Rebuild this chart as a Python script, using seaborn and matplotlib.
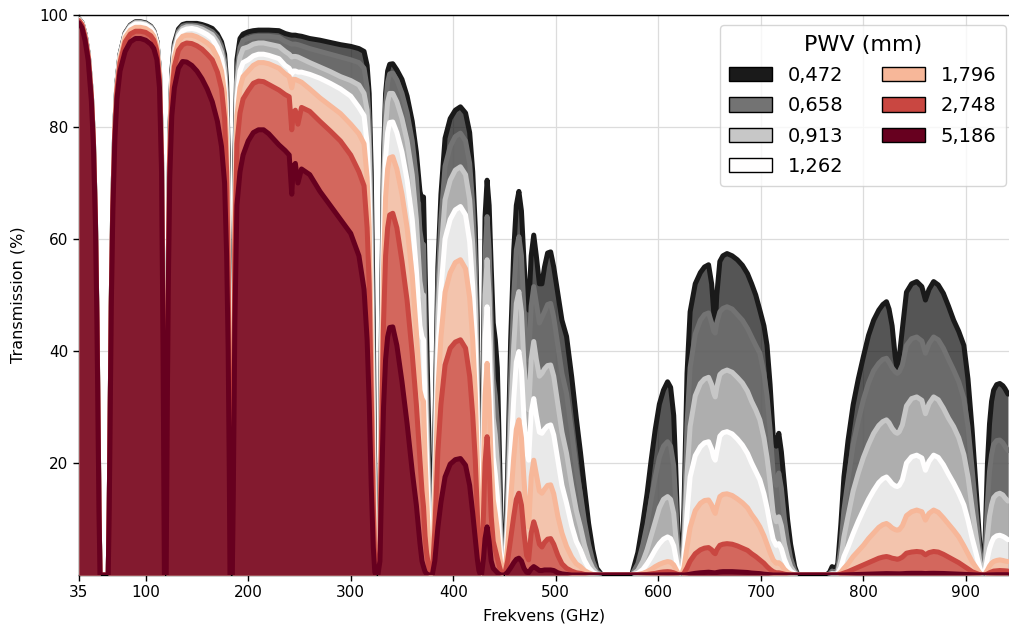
import numpy as np
import matplotlib
matplotlib.use("Agg")
import matplotlib.pyplot as plt
from matplotlib.patches import Patch
import seaborn as sns

# ---------------- data ----------------
pwv_labels = ["0,472", "0,658", "0,913", "1,262", "1,796", "2,748", "5,186"]

freq = [
    # window 1
    35, 38, 41, 44, 47, 49, 51, 52.5, 53.5, 54.5, 55.5,
    # window 2
    63.5, 64.5, 65.5, 66.5, 68, 70, 72, 75, 80, 85, 90, 95, 100, 105, 108, 111, 113.5, 115.5, 117, 118.3,
    # window 3
    120, 121, 122, 123.5, 125.5, 128, 132, 136, 140, 145, 150, 155, 160, 165, 170, 174, 177, 179, 180.5, 181.5, 182.3,
    # window 4
    184.5, 185.5, 187, 189, 192, 195, 200, 205, 210, 215, 220, 230, 236, 240, 242.5, 244, 246, 248.5, 252, 260,
    270, 280, 290, 300, 308, 313, 316, 318, 320, 322, 323.5, 324.5,
    # window 5
    326.5, 328.5, 330, 332, 334, 336, 338, 341, 345, 350, 355, 360, 364, 367.5, 369.5, 371, 372.5, 374, 376, 378, 379.5,
    # window 6
    382, 385, 388, 392, 397, 402, 407, 412, 416, 419, 421.5, 423.5, 425, 426.5,
    # window 7
    427.5, 429.5, 431, 433, 435, 437, 439, 441, 443, 445, 447, 448.5,
    # window 8
    450, 453, 456, 459, 461.5, 464, 466.5, 469, 471.5, 473.5, 476, 478.5, 481, 484, 486.5, 489, 492, 495, 498, 502,
    506, 510.5, 515.5, 520, 524, 528, 532, 536, 540, 545,
    # window 9
    574, 580, 585, 589, 593, 597, 601, 605, 609, 612, 615, 617, 619, 621, 622.5,
    # window 10
    625, 628, 631, 636, 641, 645, 649, 652, 654, 655.5, 657, 660, 663, 667, 672, 677, 682, 687, 691, 695,
    699, 703, 706, 709, 712, 715, 717.5, 720, 723, 726, 729, 733, 736,
    # window 11
    764, 767, 769.5, 772, 775, 778, 781, 785, 790, 795, 800, 805, 810, 815, 819, 822.5, 825, 828, 831, 833,
    835, 838, 842, 847, 852, 857, 860.5, 864, 868.5, 873, 878, 883, 888, 893, 898, 902, 906, 910, 913, 915.5, 917.5,
    # window 12
    919, 921, 923, 925, 927, 930, 933, 936, 938, 941,
]

t_0472 = [
    99.3, 98.6, 96.5, 93, 86, 78, 64, 46, 30, 12, 0,
    0, 12.5, 31, 49.5, 67, 80.5, 88, 93, 96.8, 98.2, 98.8, 98.8, 98.6, 98, 97.2, 95.3, 90, 75, 42, 0,
    0, 30, 55, 78, 90, 95, 97.5, 98.3, 98.5, 98.5, 98.5, 98.3, 98, 97.6, 96.6, 95.2, 93, 88, 75, 50, 0,
    0, 28, 74, 92, 95.8, 96.6, 97, 97.2, 97.3, 97.3, 97.3, 97.2, 96.7, 96.5, 96.4, 96.4, 96.4, 96.3, 96.2, 95.8,
    95.5, 95.1, 94.7, 94.4, 94.0, 93.5, 91, 86, 72, 45, 15, 0,
    0, 10, 45, 75, 86, 90, 91.2, 91.3, 90.2, 88.5, 85.5, 81, 75.5, 68.5, 67, 67.5, 55, 42, 25, 10, 0,
    25, 55, 68, 78, 81.5, 83, 83.6, 82.5, 79, 72, 62, 45, 22, 3,
    0, 40, 64, 70.5, 66, 55, 45, 42, 37, 22, 6, 0,
    0, 18, 42, 58, 66, 68.5, 65, 56, 48, 47.3, 57, 60.7, 57, 52, 52, 55, 57.5, 57.7, 55, 50.3,
    45.5, 42.6, 35.4, 28, 22, 15.5, 9.2, 4.5, 1.2, 0,
    0, 4, 9.5, 14.5, 20.5, 26, 30.5, 33, 34.5, 33.5, 28.5, 19, 8, 1.5, 0,
    12, 36, 47, 52, 54, 55, 55.4, 52, 47, 44.3, 50, 56, 57, 57.4, 57, 56.3, 55.3, 53.8, 52, 50,
    47.3, 44.5, 41, 34, 25, 23, 25.3, 22, 16, 10, 5.5, 1.5, 0,
    0, 0.5, 1.5, 0.8, 2, 9, 17.5, 24, 30.4, 35, 39, 42.8, 45.5, 47.3, 48.3, 48.8, 47.5, 44.5, 39, 36.6,
    39, 44, 50.5, 52, 52.4, 51.5, 49.1, 51, 52.4, 51.8, 50.3, 48, 45.5, 43.5, 41, 35, 26, 15, 7, 1, 0,
    8, 20, 27, 31, 33, 34, 34.2, 33.8, 33.3, 32.3,
]

t_0658 = [
    99.3, 98.6, 96.5, 93, 86, 78, 64, 46, 30, 12, 0,
    0, 12.5, 31, 49.5, 67, 80.4, 87.9, 92.9, 96.7, 98.1, 98.7, 98.7, 98.5, 97.9, 97.1, 95.2, 89.9, 74.9, 42, 0,
    0, 29.8, 54.7, 77.6, 89.5, 94.5, 97.1, 98, 98.2, 98.2, 98.1, 97.9, 97.5, 97, 96, 94.4, 91.8, 86.2, 72.5, 47, 0,
    0, 27, 72, 90, 94.2, 95.5, 95.8, 96.1, 96.2, 96.2, 96.2, 96.0, 95.3, 95.0, 94.8, 94.8, 94.8, 94.7, 94.5, 94.0,
    93.5, 93.0, 92.5, 92.0, 91.5, 90.5, 87, 81, 65, 38, 11, 0,
    0, 9, 43, 72, 84, 88, 89.5, 89.6, 88.4, 86, 82.5, 77.5, 71, 61.5, 59, 59, 45, 33, 18, 7, 0,
    23, 51, 63.5, 73, 76.5, 78.3, 78.9, 77.5, 73.5, 66, 56, 39, 18, 2.5,
    0, 35, 57, 64, 58, 45, 35, 32, 27, 15, 4, 0,
    0, 14, 35, 50, 58, 60.4, 57, 47, 40, 38.4, 48, 51.5, 48.5, 45, 46, 47, 48.3, 48.5, 46, 41,
    36, 32.4, 25.5, 19, 14.6, 9.5, 5.5, 2.5, 0.6, 0,
    0, 2, 5.5, 9, 13.5, 17.5, 21, 23, 23.8, 23, 19.5, 13, 5, 1, 0,
    8, 27, 37, 43, 45.5, 46.5, 46.8, 45, 43.5, 43.2, 45, 47, 47.6, 47.9, 47.5, 46.5, 45.5, 44, 42.5, 41,
    39.6, 36, 32, 26, 18, 16, 18.2, 15.5, 10, 6, 3, 0.8, 0,
    0, 0.2, 0.7, 0.4, 1, 5, 11.6, 17, 23.3, 27.5, 31.3, 34.3, 36.5, 37.8, 38.5, 38.7, 38, 37, 36.3, 36,
    36.3, 37.5, 41, 42.2, 42.5, 41.8, 39.6, 41.3, 42.5, 42, 40.5, 38.5, 36.6, 34.5, 31.5, 26.5, 19, 11, 5, 0.7, 0,
    5, 13, 18.5, 21.5, 23.3, 24, 24.1, 23.6, 23, 22.2,
]

t_0913 = [
    99.2, 98.5, 96.4, 92.9, 85.9, 77.9, 63.9, 45.9, 29.9, 11.9, 0,
    0, 12.5, 31, 49.4, 66.9, 80.3, 87.8, 92.8, 96.6, 98, 98.6, 98.6, 98.4, 97.8, 97, 95.1, 89.8, 74.8, 41.9, 0,
    0, 29.6, 54.4, 77.2, 89, 94, 96.7, 97.6, 97.9, 97.9, 97.8, 97.5, 97, 96.5, 95.2, 93.4, 90.5, 84, 69.5, 44, 0,
    0, 26, 70, 88, 92.5, 94, 94.3, 94.8, 95, 95, 94.8, 94.4, 93.5, 93.0, 92.5, 92.6, 92.6, 92.5, 92.2, 91.5,
    90.7, 89.9, 89.0, 88.3, 87.5, 86, 83, 76, 58, 31, 8, 0,
    0, 8, 40, 68, 80, 84.5, 86, 86, 84.5, 81.5, 77.5, 71.5, 63.5, 52.5, 50, 50, 37, 27, 14, 5, 0,
    20, 46, 57.5, 67, 70.5, 72.3, 72.9, 71.5, 67, 59, 49, 33, 15, 2,
    0, 30, 50, 56.3, 50, 37, 28, 25, 20, 11, 3, 0,
    0, 11, 28, 41, 48.5, 50.6, 47, 37.5, 31, 29.5, 38.5, 41.7, 38.5, 35.5, 36, 36.8, 37.4, 37.5, 35.5, 30.5,
    25.5, 21.7, 16, 11.5, 8.6, 5.3, 2.8, 1.2, 0.3, 0,
    0, 0.8, 2.5, 4.5, 7, 9.5, 12, 13.5, 14, 13.5, 11, 7, 2.8, 0.5, 0,
    5, 18, 26.5, 32, 34.2, 35, 35.3, 34, 32.5, 31.8, 33.5, 35.8, 36.3, 36.6, 36.2, 35.3, 34.3, 32.8, 31, 29.5,
    27.7, 24.5, 21, 16.5, 11, 9.5, 10.4, 8.8, 5.5, 3.2, 1.5, 0.4, 0,
    0, 0.1, 0.3, 0.2, 0.5, 2.8, 6.8, 10.5, 15, 18.2, 21, 23.3, 25.3, 26.7, 27.4, 27.7, 27.2, 26.2, 25.5, 25.3,
    25.6, 26.8, 30.2, 31.5, 31.8, 31.2, 28.8, 30.6, 31.8, 31.3, 29.8, 28, 26.5, 24.5, 21.5, 17.5, 12, 6.8, 3, 0.4, 0,
    2.5, 7, 10.5, 12.5, 13.8, 14.4, 14.6, 14.3, 13.8, 13.2,
]

t_1262 = [
    99.2, 98.5, 96.3, 92.8, 85.8, 77.8, 63.8, 45.8, 29.8, 11.8, 0,
    0, 12.4, 30.9, 49.3, 66.8, 80.2, 87.6, 92.6, 96.4, 97.8, 98.4, 98.4, 98.2, 97.6, 96.8, 94.9, 89.6, 74.6, 41.8, 0,
    0, 29.4, 54, 76.7, 88.4, 93.3, 96.2, 97.2, 97.5, 97.6, 97.4, 97, 96.5, 95.8, 94.2, 92.2, 88.7, 81.5, 66, 40.5, 0,
    0, 24, 67, 85, 90, 91.5, 92, 92.7, 93, 93, 92.8, 92.2, 91.0, 90.5, 89.5, 90, 90, 89.8, 89.8, 89.4,
    88.7, 87.8, 86.8, 85.5, 83.5, 82, 77, 69, 50, 25, 6, 0,
    0, 7, 36, 62, 74.5, 79, 80.8, 80.9, 79, 75.5, 70.5, 63.5, 54.5, 44.5, 42.5, 42, 30, 21, 10, 3.5, 0,
    17, 40, 51, 60, 63.5, 65.2, 65.8, 64.3, 59.5, 51.5, 41.5, 27, 12, 1.5,
    0, 25, 42, 47.9, 41, 29, 21, 18, 14, 7, 2, 0,
    0, 8, 21, 31.5, 38, 39.9, 36.5, 28, 22, 20.5, 29, 31.5, 28.5, 25.5, 25.3, 26, 26.6, 26.8, 25, 20.5,
    16, 12.8, 8.8, 6, 4.5, 2.6, 1.3, 0.5, 0.1, 0,
    0, 0.3, 1, 2, 3.2, 4.5, 5.6, 6.4, 6.8, 6.5, 5.2, 3.2, 1.2, 0.2, 0,
    3, 11, 17.5, 21.3, 22.9, 23.6, 23.8, 22.5, 21, 20.5, 22, 24.8, 25.4, 25.6, 25.2, 24.3, 23.2, 21.7, 20, 18.5,
    17, 14.5, 12, 9, 6.4, 5.3, 5.6, 4.7, 2.8, 1.5, 0.7, 0.2, 0,
    0, 0.05, 0.15, 0.1, 0.25, 1.3, 3.3, 5, 7.4, 9.6, 11.6, 13.5, 15.1, 16.5, 17.2, 17.5, 17, 16.3, 15.9, 15.8,
    16, 17, 20, 21.1, 21.4, 20.9, 18.7, 20.3, 21.4, 21, 19.7, 18, 16.4, 14.6, 12.5, 9.8, 6.6, 3.8, 1.6, 0.2, 0,
    1, 3, 4.7, 5.8, 6.6, 7, 7.1, 6.9, 6.7, 6.3,
]

t_1796 = [
    99.1, 98.4, 96.2, 92.7, 85.7, 77.7, 63.7, 45.7, 29.7, 11.7, 0,
    0, 12.4, 30.8, 49.1, 66.5, 79.8, 87.2, 92.2, 96, 97.3, 97.8, 97.8, 97.6, 97, 96.2, 94.3, 89.1, 74.2, 41.6, 0,
    0, 29, 53.3, 75.8, 87.5, 92.4, 95.3, 96.2, 96.4, 96.4, 96.1, 95.6, 95, 94.2, 92.4, 90, 86, 77.5, 61, 36, 0,
    0, 22, 64, 82, 87, 89, 90, 91, 91.5, 91.5, 91.3, 90.5, 89.5, 89, 87, 88.5, 88.5, 88.3, 88, 86.8,
    85.2, 83.8, 82.4, 80.5, 78.8, 77, 71, 62, 42, 19, 4, 0,
    0, 6, 31, 55, 67.5, 72.5, 74.5, 74.7, 72.5, 68, 62, 53.5, 43.5, 33, 31.5, 31, 21, 14, 6, 2, 0,
    13, 33, 42.5, 50.5, 54, 55.8, 56.3, 54.7, 49.5, 42, 32.5, 20, 8.5, 1,
    0, 19, 32, 37.8, 31, 20, 13.5, 11, 8, 4, 1, 0,
    0, 5, 13.5, 21, 26, 27.7, 24.5, 17, 10.5, 8.6, 17.5, 20.5, 18, 15, 14.6, 15.3, 16, 16.1, 14.5, 10.5,
    7.5, 5.1, 3.2, 2, 1.5, 0.8, 0.4, 0.1, 0, 0,
    0, 0.1, 0.3, 0.6, 1, 1.5, 1.9, 2.2, 2.4, 2.3, 1.8, 1.1, 0.4, 0.1, 0,
    1.3, 5, 8.5, 11.5, 12.8, 13.3, 13.4, 12.5, 11.5, 11, 12.2, 14, 14.4, 14.5, 14.2, 13.6, 12.9, 12, 10.8, 9.8,
    8.6, 7, 5.5, 4, 2.7, 2.1, 2.2, 1.8, 1, 0.5, 0.2, 0.05, 0,
    0, 0, 0.05, 0.03, 0.1, 0.5, 1.2, 2, 3.3, 4.3, 5.3, 6.5, 7.5, 8.5, 9, 9.2, 8.9, 8.4, 8.1, 8,
    8.1, 8.8, 10.6, 11.3, 11.6, 11.3, 9.8, 11, 11.6, 11.2, 10.2, 9.1, 8, 6.8, 5.2, 3.8, 2.4, 1.3, 0.5, 0.05, 0,
    0.3, 0.9, 1.6, 2.1, 2.4, 2.6, 2.7, 2.6, 2.5, 2.4,
]

t_2748 = [
    99.0, 98.2, 96.0, 92.5, 85.5, 77.5, 63.5, 45.5, 29.5, 11.6, 0,
    0, 12.3, 30.6, 48.8, 66, 79.3, 86.6, 91.5, 95.2, 96.6, 97.1, 97.1, 96.9, 96.3, 95.5, 93.6, 88.4, 73.6, 41.3, 0,
    0, 28.5, 52.3, 74.5, 86, 90.8, 93.7, 94.7, 95, 94.9, 94.5, 93.9, 93, 92, 89.8, 86.8, 81.5, 72, 54, 30, 0,
    0, 20, 58, 77, 82.5, 85, 86.5, 87.8, 88.2, 88.1, 87.6, 86.6, 85.8, 85.4, 79.5, 82.5, 83, 80.5, 83.5, 82.8,
    81, 79.3, 77.5, 75, 72, 69.5, 62, 52, 33, 13, 2, 0,
    0, 4.5, 25, 45, 57, 62, 64.3, 64.6, 62, 56, 49, 39.5, 30.5, 20.5, 15, 12.2, 7, 4, 1.5, 0.3, 0,
    8, 22, 30.5, 37.5, 40.5, 41.6, 42, 40.5, 35.5, 28.5, 20.5, 11, 4, 0.5,
    0, 11, 20, 24.7, 19, 10.5, 6, 4.5, 3, 1.5, 0.3, 0,
    0, 2.5, 6.5, 10.5, 13.5, 14.6, 12.5, 7.5, 3.5, 2.7, 7.5, 9.5, 8, 5.5, 5, 5.8, 6.4, 6.5, 5.5, 3.5,
    2, 1.2, 0.7, 0.4, 0.3, 0.1, 0, 0, 0, 0,
    0, 0, 0.05, 0.1, 0.2, 0.3, 0.45, 0.55, 0.6, 0.55, 0.4, 0.25, 0.1, 0, 0,
    0.3, 1.3, 2.5, 3.8, 4.5, 4.8, 4.9, 4.5, 4, 3.8, 4.5, 5.3, 5.5, 5.6, 5.5, 5.2, 4.8, 4.4, 3.8, 3.3,
    2.7, 2.1, 1.5, 1, 0.6, 0.4, 0.4, 0.3, 0.15, 0.05, 0, 0, 0,
    0, 0, 0, 0, 0.02, 0.15, 0.35, 0.6, 1, 1.4, 1.8, 2.2, 2.6, 3, 3.2, 3.3, 3.2, 3, 2.9, 2.8,
    2.9, 3.2, 3.9, 4.1, 4.2, 4.1, 3.6, 4, 4.2, 4.1, 3.7, 3.2, 2.7, 2.2, 1.6, 1.1, 0.6, 0.3, 0.1, 0, 0,
    0.05, 0.2, 0.4, 0.55, 0.7, 0.75, 0.8, 0.78, 0.75, 0.7,
]

t_5186 = [
    98.6, 97.7, 95.4, 91.9, 84.9, 77.0, 63.0, 45.0, 29.0, 11.4, 0,
    0, 12, 30, 48, 65, 78, 85, 90, 93.5, 95.2, 95.8, 95.8, 95.5, 94.8, 94, 92, 87, 72, 40, 0,
    0, 27.5, 50, 71, 82, 87, 90.5, 91.7, 91.6, 91, 90, 88.6, 86.8, 84.5, 81, 76.5, 70, 57, 40, 20, 0,
    0, 15, 45, 66, 72, 75, 77.5, 79, 79.5, 79.5, 78.8, 76.8, 75.8, 75, 68, 73, 73.5, 70, 72.5, 71.5,
    68.5, 66, 63.5, 61, 57, 51, 42, 31, 16, 5, 0.5, 0,
    0, 2.5, 15, 30, 38.5, 42.5, 44.2, 44.3, 41, 34.5, 27, 18.5, 12.5, 5.7, 2.5, 1.5, 0.6, 0.2, 0, 0, 0,
    2.5, 8.5, 13, 17.5, 19.8, 20.6, 20.8, 19.6, 16, 11, 6.5, 2.8, 0.8, 0,
    0, 3, 6.5, 8.6, 6, 2.5, 1.2, 0.8, 0.4, 0.1, 0, 0,
    0, 0.5, 1.3, 2.2, 2.8, 3, 2.5, 1.2, 0.5, 0.4, 1.1, 1.5, 1.2, 0.8, 0.8, 0.9, 0.9, 0.9, 0.8, 0.4,
    0.2, 0.1, 0, 0, 0, 0, 0, 0, 0, 0,
    0, 0, 0, 0, 0.01, 0.02, 0.03, 0.04, 0.05, 0.04, 0.03, 0.02, 0.01, 0, 0,
    0, 0.05, 0.15, 0.3, 0.4, 0.45, 0.5, 0.45, 0.4, 0.35, 0.45, 0.55, 0.6, 0.6, 0.6, 0.55, 0.5, 0.45, 0.35, 0.3,
    0.25, 0.15, 0.1, 0.05, 0, 0, 0, 0, 0, 0, 0, 0, 0,
    0, 0, 0, 0, 0, 0.01, 0.02, 0.04, 0.07, 0.1, 0.13, 0.16, 0.19, 0.22, 0.24, 0.25, 0.24, 0.22, 0.21, 0.2,
    0.21, 0.23, 0.28, 0.3, 0.3, 0.3, 0.26, 0.29, 0.3, 0.29, 0.27, 0.23, 0.19, 0.15, 0.11, 0.07, 0.04, 0.02, 0.01, 0, 0,
    0, 0.01, 0.02, 0.03, 0.04, 0.05, 0.05, 0.05, 0.05, 0.05,
]

series = [t_0472, t_0658, t_0913, t_1262, t_1796, t_2748, t_5186]
for s in series:
    assert len(s) == len(freq), (len(s), len(freq))

x_ticks = [35, 100, 200, 300, 400, 500, 600, 700, 800, 900]
y_ticks = [20, 40, 60, 80, 100]

# ---------------- plot ----------------
sns.set_style("ticks")
plt.rcParams["font.family"] = ["DejaVu Sans"]
plt.rcParams.update({
    "text.color": "black",
    "axes.labelcolor": "black",
    "xtick.color": "black",
    "ytick.color": "black",
    "axes.edgecolor": "black",
})

colors = plt.cm.RdGy_r(np.linspace(0, 1, len(series)))

fig = plt.figure(figsize=(10.09, 6.27), dpi=100)
ax = fig.add_axes([79 / 1009, 52 / 627, 930 / 1009, 560 / 627])

x = np.array(freq, dtype=float)
for i, (vals, c) in enumerate(zip(series, colors)):
    y = np.array(vals, dtype=float)
    ax.fill_between(x, 0, y, color=c, alpha=0.74, linewidth=0, zorder=2 + 2 * i)
    sns.lineplot(x=x, y=y, ax=ax, color=c, linewidth=3.6, sort=False,
                 estimator=None, legend=False, zorder=3 + 2 * i)

ax.set_xlim(35, 942)
ax.set_ylim(0, 100)
ax.set_xticks(x_ticks)
ax.set_yticks(y_ticks)
ax.tick_params(axis="both", labelsize=11, length=4, width=1, colors="black")
ax.set_xlabel("Frekvens (GHz)", fontsize=11.5, labelpad=6, color="black")
ax.set_ylabel("Transmission (%)", fontsize=11.5, labelpad=10, color="black")
ax.grid(True, color="#dcdcdc", linewidth=0.9)
ax.set_axisbelow(True)
for sp in ["left", "bottom", "top"]:
    ax.spines[sp].set_color("black")
    ax.spines[sp].set_linewidth(1)
ax.spines["right"].set_visible(False)

handles = [Patch(facecolor=c, edgecolor="black", linewidth=1) for c in colors]
leg = ax.legend(handles, pwv_labels, title="PWV (mm)", ncol=2, fontsize=14,
                title_fontsize=16, loc="upper right",
                bbox_to_anchor=(1006 / 1009, 1 - 25 / 627),
                bbox_transform=fig.transFigure, borderaxespad=0,
                handlelength=2.2, handleheight=0.75, columnspacing=2.0,
                labelspacing=0.58, borderpad=0.5, framealpha=0.8)
for t in leg.get_texts():
    t.set_color("black")
leg.get_title().set_color("black")
leg.set_zorder(50)

fig.savefig("out.png", dpi=100)
